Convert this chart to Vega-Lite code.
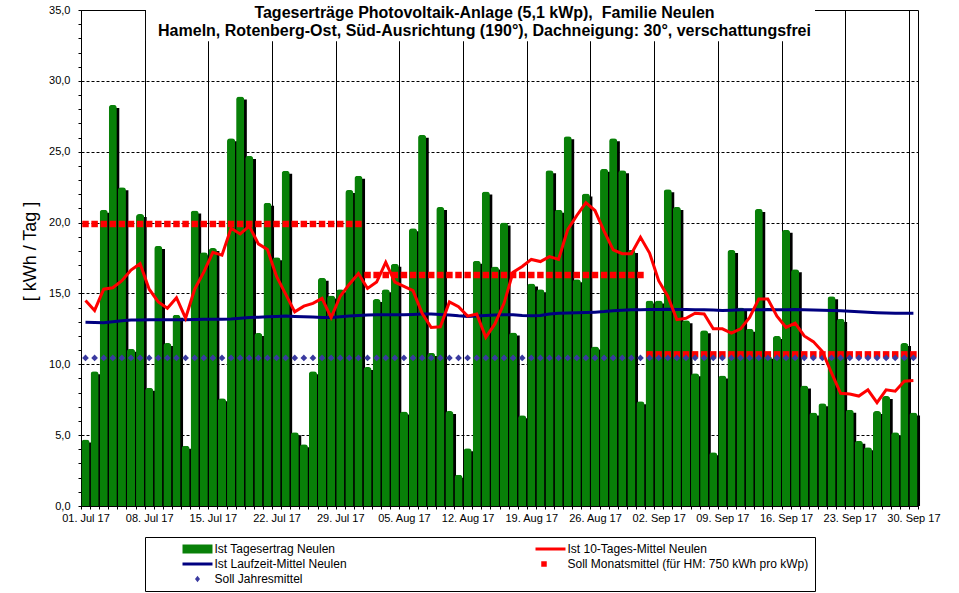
{
  "$schema": "https://vega.github.io/schema/vega-lite/v6.json",
  "autosize": {"type": "none"},
  "padding": {"left": 81, "top": 10, "right": 41, "bottom": 87},
  "width": 837,
  "height": 496,
  "background": "white",
  "title": {
    "text": ["Tageserträge Photovoltaik-Anlage (5,1 kWp),\u00a0 Familie Neulen", "Hameln, Rotenberg-Ost, Süd-Ausrichtung (190°), Dachneigung: 30°, verschattungsfrei"],
    "font": "Liberation Sans", "fontSize": 16, "fontWeight": "bold", "color": "black",
    "anchor": "middle", "frame": "group", "dx": -15, "offset": -35, "lineHeight": 18
  },
  "data": {"values": [
    {"d":"2017-07-01","ist":4.7,"m10":14.5,"lz":12.97,"sm":19.9,"sj":10.45},
    {"d":"2017-07-02","ist":9.5,"m10":13.8,"lz":12.95,"sm":19.9,"sj":10.45},
    {"d":"2017-07-03","ist":20.9,"m10":15.3,"lz":12.93,"sm":19.9,"sj":10.45},
    {"d":"2017-07-04","ist":28.3,"m10":15.4,"lz":13.0,"sm":19.9,"sj":10.45},
    {"d":"2017-07-05","ist":22.5,"m10":15.9,"lz":13.08,"sm":19.9,"sj":10.45},
    {"d":"2017-07-06","ist":11.1,"m10":16.65,"lz":13.12,"sm":19.9,"sj":10.45},
    {"d":"2017-07-07","ist":20.6,"m10":17.1,"lz":13.13,"sm":19.9,"sj":10.45},
    {"d":"2017-07-08","ist":8.35,"m10":15.3,"lz":13.14,"sm":19.9,"sj":10.45},
    {"d":"2017-07-09","ist":18.35,"m10":14.4,"lz":13.15,"sm":19.9,"sj":10.45},
    {"d":"2017-07-10","ist":11.5,"m10":13.95,"lz":13.15,"sm":19.9,"sj":10.45},
    {"d":"2017-07-11","ist":13.5,"m10":14.7,"lz":13.15,"sm":19.9,"sj":10.45},
    {"d":"2017-07-12","ist":4.26,"m10":13.25,"lz":13.15,"sm":19.9,"sj":10.45},
    {"d":"2017-07-13","ist":20.85,"m10":15.3,"lz":13.16,"sm":19.9,"sj":10.45},
    {"d":"2017-07-14","ist":17.9,"m10":16.5,"lz":13.17,"sm":19.9,"sj":10.45},
    {"d":"2017-07-15","ist":18.2,"m10":17.9,"lz":13.18,"sm":19.9,"sj":10.45},
    {"d":"2017-07-16","ist":7.6,"m10":17.7,"lz":13.17,"sm":19.9,"sj":10.45},
    {"d":"2017-07-17","ist":25.95,"m10":19.6,"lz":13.2,"sm":19.9,"sj":10.45},
    {"d":"2017-07-18","ist":28.9,"m10":19.2,"lz":13.25,"sm":19.9,"sj":10.45},
    {"d":"2017-07-19","ist":24.7,"m10":19.75,"lz":13.3,"sm":19.9,"sj":10.45},
    {"d":"2017-07-20","ist":12.2,"m10":18.5,"lz":13.32,"sm":19.9,"sj":10.45},
    {"d":"2017-07-21","ist":21.4,"m10":18.1,"lz":13.35,"sm":19.9,"sj":10.45},
    {"d":"2017-07-22","ist":17.55,"m10":16.2,"lz":13.38,"sm":19.9,"sj":10.45},
    {"d":"2017-07-23","ist":23.65,"m10":14.95,"lz":13.4,"sm":19.9,"sj":10.45},
    {"d":"2017-07-24","ist":5.2,"m10":13.7,"lz":13.38,"sm":19.9,"sj":10.45},
    {"d":"2017-07-25","ist":4.35,"m10":14.1,"lz":13.35,"sm":19.9,"sj":10.45},
    {"d":"2017-07-26","ist":9.5,"m10":14.3,"lz":13.33,"sm":19.9,"sj":10.45},
    {"d":"2017-07-27","ist":16.1,"m10":14.65,"lz":13.3,"sm":19.9,"sj":10.45},
    {"d":"2017-07-28","ist":14.85,"m10":13.3,"lz":13.3,"sm":19.9,"sj":10.45},
    {"d":"2017-07-29","ist":15.3,"m10":14.8,"lz":13.35,"sm":19.9,"sj":10.45},
    {"d":"2017-07-30","ist":22.3,"m10":15.65,"lz":13.4,"sm":19.9,"sj":10.45},
    {"d":"2017-07-31","ist":23.3,"m10":16.4,"lz":13.45,"sm":19.9,"sj":10.45},
    {"d":"2017-08-01","ist":9.8,"m10":15.35,"lz":13.48,"sm":16.3,"sj":10.45},
    {"d":"2017-08-02","ist":14.6,"m10":15.8,"lz":13.5,"sm":16.3,"sj":10.45},
    {"d":"2017-08-03","ist":15.3,"m10":17.2,"lz":13.5,"sm":16.3,"sj":10.45},
    {"d":"2017-08-04","ist":17.1,"m10":15.8,"lz":13.5,"sm":16.3,"sj":10.45},
    {"d":"2017-08-05","ist":6.66,"m10":15.5,"lz":13.5,"sm":16.3,"sj":10.45},
    {"d":"2017-08-06","ist":19.6,"m10":15.2,"lz":13.52,"sm":16.3,"sj":10.45},
    {"d":"2017-08-07","ist":26.2,"m10":13.6,"lz":13.55,"sm":16.3,"sj":10.45},
    {"d":"2017-08-08","ist":10.8,"m10":12.6,"lz":13.55,"sm":16.3,"sj":10.45},
    {"d":"2017-08-09","ist":21.1,"m10":12.65,"lz":13.52,"sm":16.3,"sj":10.45},
    {"d":"2017-08-10","ist":6.7,"m10":14.4,"lz":13.48,"sm":16.3,"sj":10.45},
    {"d":"2017-08-11","ist":2.2,"m10":14.07,"lz":13.42,"sm":16.3,"sj":10.45},
    {"d":"2017-08-12","ist":4.07,"m10":13.4,"lz":13.38,"sm":16.3,"sj":10.45},
    {"d":"2017-08-13","ist":17.3,"m10":13.55,"lz":13.4,"sm":16.3,"sj":10.45},
    {"d":"2017-08-14","ist":22.2,"m10":11.9,"lz":13.45,"sm":16.3,"sj":10.45},
    {"d":"2017-08-15","ist":16.9,"m10":12.85,"lz":13.48,"sm":16.3,"sj":10.45},
    {"d":"2017-08-16","ist":20.0,"m10":14.3,"lz":13.5,"sm":16.3,"sj":10.45},
    {"d":"2017-08-17","ist":12.25,"m10":16.5,"lz":13.5,"sm":16.3,"sj":10.45},
    {"d":"2017-08-18","ist":6.4,"m10":16.9,"lz":13.45,"sm":16.3,"sj":10.45},
    {"d":"2017-08-19","ist":15.7,"m10":17.4,"lz":13.42,"sm":16.3,"sj":10.45},
    {"d":"2017-08-20","ist":15.3,"m10":17.25,"lz":13.45,"sm":16.3,"sj":10.45},
    {"d":"2017-08-21","ist":23.7,"m10":17.6,"lz":13.55,"sm":16.3,"sj":10.45},
    {"d":"2017-08-22","ist":20.9,"m10":17.4,"lz":13.6,"sm":16.3,"sj":10.45},
    {"d":"2017-08-23","ist":26.1,"m10":19.5,"lz":13.62,"sm":16.3,"sj":10.45},
    {"d":"2017-08-24","ist":16.0,"m10":20.5,"lz":13.63,"sm":16.3,"sj":10.45},
    {"d":"2017-08-25","ist":22.05,"m10":21.4,"lz":13.65,"sm":16.3,"sj":10.45},
    {"d":"2017-08-26","ist":11.25,"m10":20.85,"lz":13.68,"sm":16.3,"sj":10.45},
    {"d":"2017-08-27","ist":23.8,"m10":19.4,"lz":13.72,"sm":16.3,"sj":10.45},
    {"d":"2017-08-28","ist":25.95,"m10":18.07,"lz":13.78,"sm":16.3,"sj":10.45},
    {"d":"2017-08-29","ist":23.7,"m10":17.8,"lz":13.82,"sm":16.3,"sj":10.45},
    {"d":"2017-08-30","ist":18.07,"m10":17.8,"lz":13.85,"sm":16.3,"sj":10.45},
    {"d":"2017-08-31","ist":7.4,"m10":18.96,"lz":13.85,"sm":16.3,"sj":10.45},
    {"d":"2017-09-01","ist":14.5,"m10":17.85,"lz":13.87,"sm":10.7,"sj":10.45},
    {"d":"2017-09-02","ist":14.5,"m10":15.9,"lz":13.87,"sm":10.7,"sj":10.45},
    {"d":"2017-09-03","ist":22.35,"m10":14.8,"lz":13.88,"sm":10.7,"sj":10.45},
    {"d":"2017-09-04","ist":21.1,"m10":13.15,"lz":13.87,"sm":10.7,"sj":10.45},
    {"d":"2017-09-05","ist":13.1,"m10":13.25,"lz":13.86,"sm":10.7,"sj":10.45},
    {"d":"2017-09-06","ist":9.36,"m10":13.6,"lz":13.85,"sm":10.7,"sj":10.45},
    {"d":"2017-09-07","ist":12.4,"m10":13.55,"lz":13.85,"sm":10.7,"sj":10.45},
    {"d":"2017-09-08","ist":3.8,"m10":12.5,"lz":13.83,"sm":10.7,"sj":10.45},
    {"d":"2017-09-09","ist":9.2,"m10":12.5,"lz":13.8,"sm":10.7,"sj":10.45},
    {"d":"2017-09-10","ist":18.07,"m10":12.2,"lz":13.82,"sm":10.7,"sj":10.45},
    {"d":"2017-09-11","ist":14.0,"m10":12.5,"lz":13.84,"sm":10.7,"sj":10.45},
    {"d":"2017-09-12","ist":12.5,"m10":13.3,"lz":13.84,"sm":10.7,"sj":10.45},
    {"d":"2017-09-13","ist":20.96,"m10":14.6,"lz":13.85,"sm":10.7,"sj":10.45},
    {"d":"2017-09-14","ist":10.6,"m10":14.6,"lz":13.86,"sm":10.7,"sj":10.45},
    {"d":"2017-09-15","ist":12.0,"m10":13.4,"lz":13.85,"sm":10.7,"sj":10.45},
    {"d":"2017-09-16","ist":19.5,"m10":12.6,"lz":13.85,"sm":10.7,"sj":10.45},
    {"d":"2017-09-17","ist":16.7,"m10":12.9,"lz":13.86,"sm":10.7,"sj":10.45},
    {"d":"2017-09-18","ist":8.5,"m10":12.0,"lz":13.85,"sm":10.7,"sj":10.45},
    {"d":"2017-09-19","ist":6.6,"m10":11.6,"lz":13.83,"sm":10.7,"sj":10.45},
    {"d":"2017-09-20","ist":7.25,"m10":10.9,"lz":13.82,"sm":10.7,"sj":10.45},
    {"d":"2017-09-21","ist":14.8,"m10":9.4,"lz":13.8,"sm":10.7,"sj":10.45},
    {"d":"2017-09-22","ist":13.2,"m10":7.95,"lz":13.78,"sm":10.7,"sj":10.45},
    {"d":"2017-09-23","ist":6.8,"m10":7.9,"lz":13.74,"sm":10.7,"sj":10.45},
    {"d":"2017-09-24","ist":4.6,"m10":7.76,"lz":13.7,"sm":10.7,"sj":10.45},
    {"d":"2017-09-25","ist":4.14,"m10":8.2,"lz":13.67,"sm":10.7,"sj":10.45},
    {"d":"2017-09-26","ist":6.7,"m10":7.3,"lz":13.64,"sm":10.7,"sj":10.45},
    {"d":"2017-09-27","ist":7.76,"m10":8.2,"lz":13.62,"sm":10.7,"sj":10.45},
    {"d":"2017-09-28","ist":5.2,"m10":8.1,"lz":13.6,"sm":10.7,"sj":10.45},
    {"d":"2017-09-29","ist":11.5,"m10":8.8,"lz":13.6,"sm":10.7,"sj":10.45},
    {"d":"2017-09-30","ist":6.6,"m10":8.85,"lz":13.6,"sm":10.7,"sj":10.45}
  ]},
  "transform": [{"fold": ["ist", "m10", "lz", "sm", "sj"], "as": ["reihe", "wert"]}],
  "encoding": {
    "x": {
      "field": "d", "type": "temporal",
      "scale": {"type": "utc", "padding": 0, "domain": [{"year": 2017, "month": 7, "date": 1, "utc": true}, {"year": 2017, "month": 10, "date": 1, "utc": true}]},
      "axis": {
        "title": null,
        "zindex": 0,
        "tickCount": {"interval": "day", "step": 1},
        "labelExpr": "(round((datum.value - utc(2017,6,1)) / 86400000) % 7 == 0) && datum.value < utc(2017,9,1) ? utcFormat(datum.value, '%d. %b %y') : ''",
        "labelOffset": 4.5,
        "labelFlush": false,
        "labelOverlap": false,
        "labelPadding": 3,
        "tickSize": 3,
        "grid": true,
        "gridColor": "black",
        "gridWidth": 1,
        "gridOpacity": {"condition": {"test": "round((datum.value - utc(2017,6,1)) / 86400000) % 7 == 0", "value": 1}, "value": 0}
      }
    },
    "y": {
      "field": "wert", "type": "quantitative",
      "scale": {"domain": [0, 35], "nice": false, "zero": true, "padding": 0},
      "axis": {
        "title": "[ kWh / Tag ]",
        "zindex": 0,
        "titleFontSize": 18, "titleFontWeight": "normal", "titleColor": "black", "titlePadding": 9,
        "titleY": 241,
        "values": [0,1,2,3,4,5,6,7,8,9,10,11,12,13,14,15,16,17,18,19,20,21,22,23,24,25,26,27,28,29,30,31,32,33,34,35],
        "labelExpr": "datum.value % 5 == 0 ? replace(format(datum.value, '.1f'), '.', ',') : ''",
        "tickSize": 3,
        "labelPadding": 8,
        "labelOverlap": false,
        "grid": true,
        "gridColor": "black",
        "gridDash": [3, 2],
        "gridOpacity": {"condition": {"test": "datum.value % 5 == 0 && datum.value > 0 && datum.value < 35", "value": 1}, "value": 0}
      }
    }
  },
  "layer": [
    {
      "transform": [{"filter": "datum.reihe === 'ist'"}],
      "mark": {"type": "bar", "color": "black", "width": 8.1, "xOffset": 7.2, "yOffset": 3, "cornerRadiusTopLeft": 3, "cornerRadiusTopRight": 3}
    },
    {
      "transform": [{"filter": "datum.reihe === 'ist'"}],
      "mark": {"type": "bar", "width": 8.1, "xOffset": 4.5, "cornerRadiusTopLeft": 3, "cornerRadiusTopRight": 3},
      "encoding": {
        "color": {
          "datum": "Ist Tagesertrag Neulen", "type": "nominal",
          "scale": {
            "domain": ["Ist Tagesertrag Neulen", "Ist 10-Tages-Mittel Neulen", "Ist Laufzeit-Mittel Neulen", "Soll Monatsmittel (für HM: 750 kWh pro kWp)", "Soll Jahresmittel"],
            "range": ["#088008", "#ff0000", "#000080", "#ff0000", "#3a3aa0"]
          },
          "legend": {
            "title": null,
            "orient": "none", "legendX": 64, "legendY": 527,
            "direction": "horizontal", "columns": 2, "gridAlign": "all",
            "columnPadding": 48, "rowPadding": 3, "padding": 6,
            "strokeColor": "black", "fillColor": "white",
            "symbolSize": 100, "symbolOffset": 40.5, "labelOffset": 11,
            "labelFont": "Liberation Sans", "labelFontSize": 12, "labelColor": "black", "labelLimit": 0,
            "encode": {
              "symbols": {
                "update": {
                  "shape": {"signal": "['M-3,-0.9H3V0.9H-3Z','M-3,-0.3H3V0.3H-3Z','M-3,-0.3H3V0.3H-3Z','M-1.85,-0.55H-0.75V0.55H-1.85Z','M0,-0.65L0.5,0L0,0.65L-0.5,0Z'][indexof(domain('color'), datum.value)]"},
                  "fill": {"scale": "color", "field": "value"},
                  "stroke": {"value": "transparent"},
                  "strokeWidth": {"value": 0},
                  "opacity": {"value": 1}
                }
              }
            }
          }
        }
      }
    },
    {
      "transform": [{"filter": "datum.reihe === 'sm'"}],
      "mark": {"type": "point", "shape": "square", "filled": true, "size": 42, "color": "#ff0000", "opacity": 1, "xOffset": 4.5}
    },
    {
      "transform": [{"filter": "datum.reihe === 'sj'"}],
      "mark": {"type": "point", "shape": "diamond", "filled": true, "size": 45, "color": "#3a3aa0", "opacity": 1, "xOffset": 4.5}
    },
    {
      "transform": [{"filter": "datum.reihe === 'lz'"}],
      "mark": {"type": "line", "color": "#000080", "strokeWidth": 3, "xOffset": 4.5}
    },
    {
      "transform": [{"filter": "datum.reihe === 'm10'"}],
      "mark": {"type": "line", "color": "#ff0000", "strokeWidth": 3, "xOffset": 4.5}
    },
    {
      "transform": [{"filter": "datum.reihe === 'ist' && +datum.d === utc(2017, 6, 1)"}],
      "mark": {"type": "rect", "color": "white", "opacity": 1},
      "encoding": {
        "x": {"datum": {"year": 2017, "month": 7, "date": 8, "hours": 3, "minutes": 25, "utc": true}, "type": "temporal"},
        "x2": {"datum": {"year": 2017, "month": 9, "date": 19, "hours": 16, "minutes": 20, "utc": true}},
        "y": {"datum": 32.8, "type": "quantitative"},
        "y2": {"datum": 35.3}
      }
    }
  ],
  "config": {
    "font": "Liberation Sans",
    "view": {"stroke": "black", "strokeWidth": 1},
    "axis": {
      "labelFont": "Liberation Sans", "labelFontSize": 11, "labelColor": "black",
      "titleFont": "Liberation Sans",
      "domainColor": "black", "tickColor": "black", "domainWidth": 1, "tickWidth": 1,
      "labelOverlap": false
    }
  }
}
